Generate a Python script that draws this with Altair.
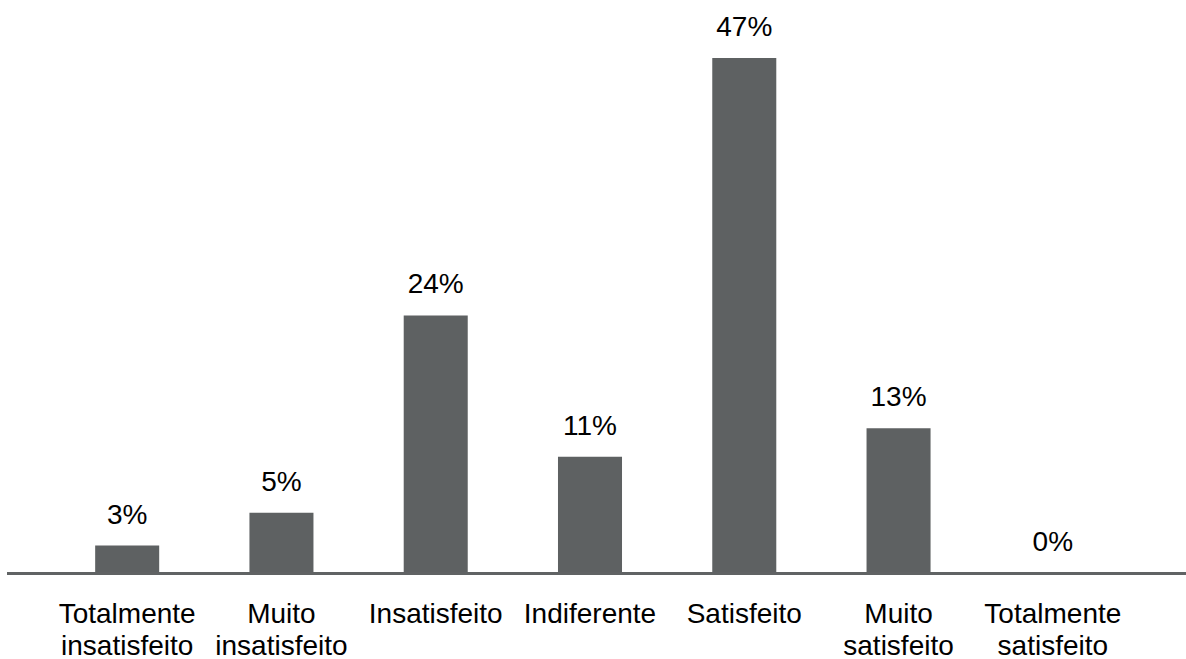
import altair as alt
import pandas as pd

categories = ["Totalmente insatisfeito", "Muito insatisfeito", "Insatisfeito",
              "Indiferente", "Satisfeito", "Muito satisfeito", "Totalmente satisfeito"]
values = [2.5, 5.5, 23.5, 10.6, 47.0, 13.2, 0.0]
labels = ["3%", "5%", "24%", "11%", "47%", "13%", "0%"]

df = pd.DataFrame({"cat": categories, "value": values, "label": labels})

FONT = "Liberation Sans"

x = alt.X("cat:N", sort=categories, title=None,
          scale=alt.Scale(paddingInner=0.585, paddingOuter=0.565),
          axis=alt.Axis(domain=False, ticks=False, tickSize=0, labelAngle=0,
                        labelFont=FONT, labelFontSize=28, labelColor="#000000",
                        labelBaseline="alphabetic", labelPadding=49,
                        labelLineHeight=32, labelLimit=400,
                        labelExpr="indexof(datum.label, ' ') > 0 ? split(datum.label, ' ') : datum.label"))
y = alt.Y("value:Q", title=None, scale=alt.Scale(domain=[0, 50], nice=False, zero=True),
          axis=None)

bars = alt.Chart(df).mark_bar(color="#5e6162").encode(x=x, y=y)

text = alt.Chart(df).mark_text(font=FONT, fontSize=28, color="#000000",
                               baseline="alphabetic", dy=-22).encode(
    x=alt.X("cat:N", sort=categories),
    y=alt.Y("value:Q"),
    text="label:N")

rule = alt.Chart(df).mark_rule(color="#606364", strokeWidth=2.5, yOffset=0.5).encode(
    x=alt.value(-1), x2=alt.value(1180), y=alt.datum(0))

chart = alt.layer(bars, text, rule).properties(
    width=1164, height=548,
    autosize=alt.AutoSizeParams(type="none"),
    padding={"left": 8, "top": 25, "right": 14, "bottom": 86},
    background="#ffffff",
).configure_view(stroke=None)

chart.save("out.html", embed_options={"renderer": "svg", "actions": False})
